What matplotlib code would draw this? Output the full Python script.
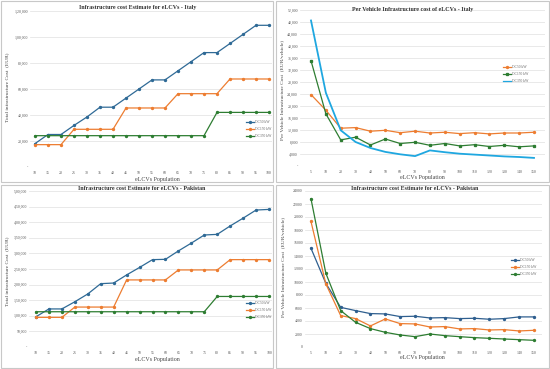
import matplotlib
matplotlib.use('Agg')
from matplotlib import pyplot as plt
from matplotlib.patches import Rectangle
from matplotlib.ticker import FuncFormatter

# ---- data ----
pop_total = [10, 15, 20, 25, 30, 35, 40, 45, 50, 55, 60, 65, 70, 75, 80, 85, 90, 95, 100]
pop_per = [5, 10, 20, 30, 40, 50, 60, 70, 80, 90, 100, 110, 120, 130, 140, 150]
labels = ['DC50 kW', 'DC150 kW', 'DC350 kW']

it_dc50 = [18000, 25000, 25000, 32000, 38500, 46000, 46000, 53000, 60000, 67000, 67000,
           74000, 81000, 88000, 88000, 95000, 102000, 109000, 109000]
it_dc150 = [17200, 17200, 17200, 29000, 29000, 29000, 29000, 45400, 45400, 45400, 45400,
            56400, 56400, 56400, 56400, 67700, 67700, 67700, 67700]
it_dc350 = [24100] * 14 + [42000] * 5

itpv_dc50 = [23800, 18600, 12600, 12800, 11600, 11900, 11100, 11600, 11000, 11250,
             10800, 11100, 10700, 11000, 11000, 11250]
itpv_dc150 = [35100, 17400, 8700, 9600, 7000, 9000, 7500, 7900, 6900, 7500,
              6700, 7100, 6500, 6900, 6400, 6700]
itpv_dc350 = [48500, 24400, 11900, 8000, 6000, 4700, 3900, 3300, 5200, 4600,
              4100, 3800, 3500, 3200, 3000, 2700]

pk_dc50 = [97000, 122000, 122000, 145000, 170000, 203000, 205000, 231000, 255000, 280000,
           281000, 308000, 333000, 359000, 361000, 388000, 413000, 439000, 441000]
pk_dc150 = [95000] * 3 + [128000] * 4 + [215000] * 4 + [247000] * 4 + [280000] * 4
pk_dc350 = [113000] * 14 + [162000] * 5

pkpv_dc50 = [15200, 9800, 6100, 5600, 5140, 5090, 4680, 4730, 4470, 4520,
             4370, 4420, 4270, 4370, 4630, 4630]
pkpv_dc150 = [19330, 9720, 4830, 4370, 3240, 4320, 3600, 3550, 3080, 3140,
              2780, 2830, 2620, 2670, 2470, 2570]
pkpv_dc350 = [22830, 11360, 5600, 3800, 2830, 2260, 1850, 1590, 2000, 1750,
              1590, 1440, 1340, 1230, 1130, 1030]

W, H = 550, 369
plt.rcParams['font.family'] = ['Liberation Serif', 'DejaVu Serif']
fig = plt.figure(figsize=(W / 100, H / 100), dpi=100)


def fx(px):
    return px / W


def fy(py):
    return 1 - py / H


def indian(v, pos=None):
    if v == 0:
        return '-'
    s = str(int(round(v)))
    if len(s) <= 3:
        return s
    last3 = s[-3:]
    rest = s[:-3]
    parts = []
    while len(rest) > 2:
        parts.insert(0, rest[-2:])
        rest = rest[:-2]
    if rest:
        parts.insert(0, rest)
    return ','.join(parts) + ',' + last3


def plain(v, pos=None):
    return str(int(round(v)))


# panel frames
for (x0, y0, x1, y1) in [(1, 1, 273, 182), (276, 1, 549, 182), (1, 185, 273, 368), (276, 185, 549, 368)]:
    fig.patches.append(Rectangle((fx(x0), fy(y1)), fx(x1 - x0), (y1 - y0) / H,
                                 transform=fig.transFigure, fill=False,
                                 edgecolor='#c8c8c8', linewidth=0.8))


def panel(box, xcats, series, colors, markers, ylim, ystep, fmt, xpad, title, tpos,
          ylab, ylpos, xlpos, legpos):
    x0, y0, x1, y1 = box
    ax = fig.add_axes([fx(x0), fy(y1), fx(x1 - x0), (y1 - y0) / H])
    pos = list(range(len(xcats)))
    for vals, c, m, lab in zip(series, colors, markers, labels):
        ax.plot(pos, vals, color=c, lw=0.9, marker=m, ms=1.4, label=lab)
    ax.set_xlim(-xpad[0], len(xcats) - 1 + xpad[1])
    ax.set_ylim(ylim)
    ax.set_yticks(range(0, ylim[1] + 1, ystep))
    ax.yaxis.set_major_formatter(FuncFormatter(fmt))
    ax.set_xticks(pos)
    ax.set_xticklabels([str(c) for c in xcats])
    ax.tick_params(axis='both', length=0, labelsize=2.8, colors='#555555')
    ax.tick_params(axis='y', pad=1.5)
    ax.tick_params(axis='x', pad=3)
    ax.grid(axis='y', color='#e0e0e0', lw=0.5)
    ax.set_axisbelow(True)
    for s in ax.spines.values():
        s.set_visible(False)
    fig.text(fx(tpos[0]), fy(tpos[1]), title, ha='center', va='center',
             fontsize=4.3, fontweight='bold', color='#333333')
    fig.text(fx(ylpos[0]), fy(ylpos[1]), ylab, ha='center', va='center',
             rotation=90, fontsize=3.9, color='#444444')
    fig.text(fx(xlpos[0]), fy(xlpos[1]), 'eLCVs Population', ha='center', va='center',
             fontsize=4.3, color='#444444')
    order = legpos[2]
    h, l = ax.get_legend_handles_labels()
    ax.legend([h[i] for i in order], [l[i] for i in order], loc='center left',
              bbox_to_anchor=(fx(legpos[0]), fy(legpos[1])),
              bbox_transform=fig.transFigure, frameon=False, fontsize=2.6,
              handlelength=2.2, labelspacing=0.8, handletextpad=0.3,
              labelcolor='#666666')
    return ax


# Italy total
panel((30, 11, 272, 167), pop_total, [it_dc50, it_dc150, it_dc350],
      ['#2f6a96', '#ed7d31', '#2e7d32'], ['o', 'o', 'o'], (0, 120000), 20000, indian,
      (0.385, 0.23), 'Infrastructure cost Estimate for eLCVs - Italy', (138, 7),
      'Total infrastructure Cost  (EUR)', (7, 87), (157, 179), (243, 129, [0, 1, 2]))

# Italy per vehicle
ax = panel((300, 10, 545, 166), pop_per, [itpv_dc50, itpv_dc150, itpv_dc350],
           ['#ed7d31', '#2e7d32', '#1fa7e0'], ['o', 's', ''], (0, 52000), 4000, indian,
           (0.74, 0.74), 'Per Vehicle Infrastructure cost of eLCVs - Italy', (413, 9),
           'Per Vehicle Infrastructure Cost  (EUR/vehicle)', (282, 90), (422, 178),
           (500, 74, [0, 1, 2]))
ax.lines[2].set_linewidth(1.3)

# Pakistan total
panel((29, 191, 272, 347), pop_total, [pk_dc50, pk_dc150, pk_dc350],
      ['#2f6a96', '#ed7d31', '#2e7d32'], ['o', 'o', 'o'], (0, 500000), 50000, indian,
      (0.54, 0.23), 'Infrastructure cost Estimate for eLCVs - Pakistan', (142, 188),
      'Total infrastructure Cost  (EUR)', (7, 271), (157, 360), (243, 310, [0, 1, 2]))

# Pakistan per vehicle
panel((305, 191, 542, 347), pop_per, [pkpv_dc50, pkpv_dc150, pkpv_dc350],
      ['#2f5f8f', '#ed7d31', '#2e7d32'], ['o', 'o', 'o'], (0, 24000), 2000, plain,
      (0.40, 0.54), 'Infrastructure cost Estimate for eLCVs - Pakistan', (415, 189),
      'Per Vehicle Infrastructure Cost  (EUR/vehicle)', (283, 267), (422, 358),
      (508, 267, [0, 1, 2]))

fig.savefig('out.png', dpi=100)
